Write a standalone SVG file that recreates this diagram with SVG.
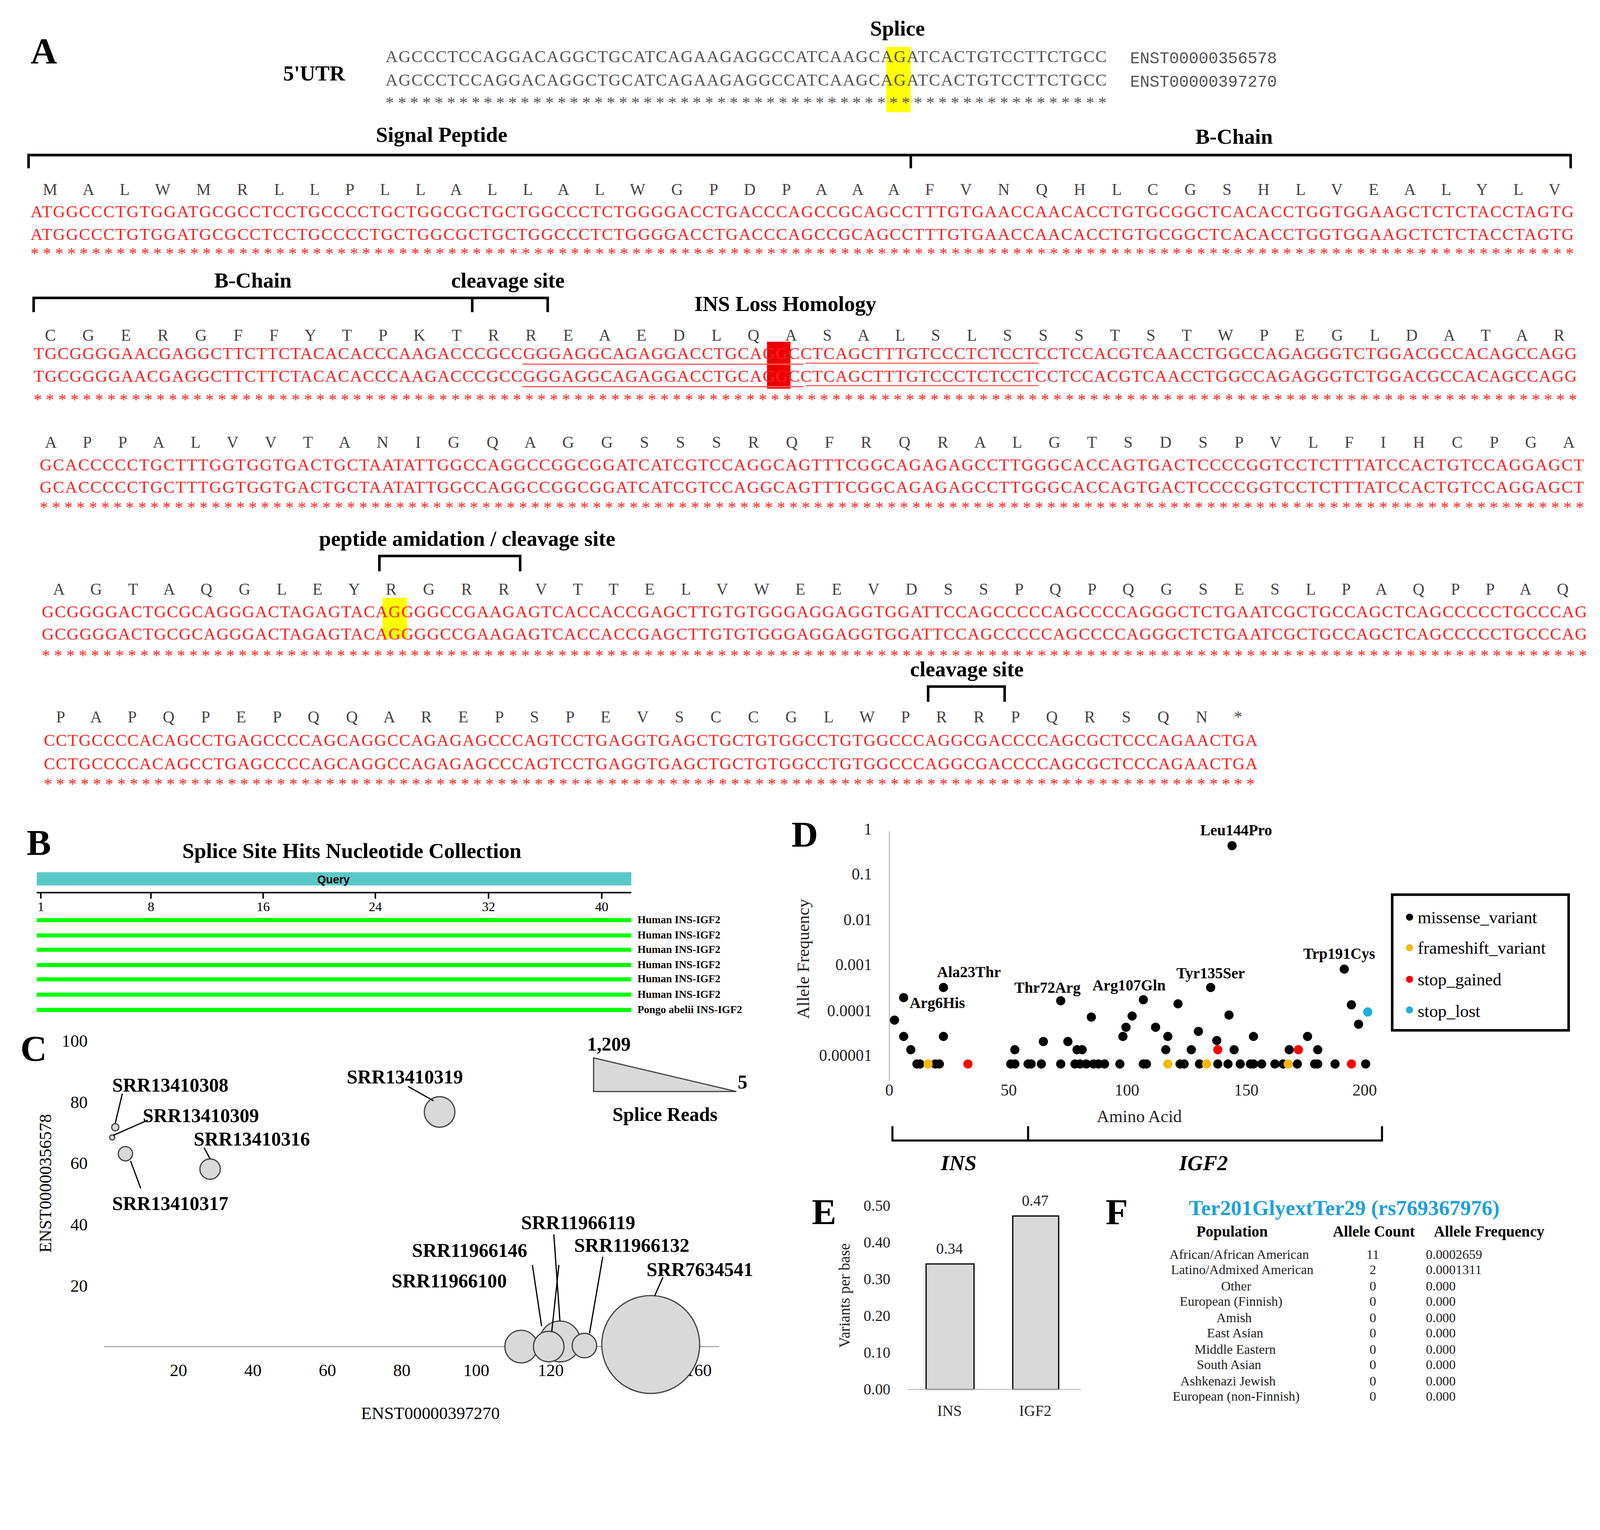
<svg xmlns="http://www.w3.org/2000/svg" width="4361" height="3916" viewBox="0 0 4361 3916">
<style>
text{font-family:"Liberation Serif","Times New Roman",serif;}
.b{font-weight:bold;}
.big{font-size:36px;font-weight:bold;}
.lab{font-size:21px;font-weight:bold;}
.aa{font-size:16px;fill:#444;}
.dna{font-size:16.5px;fill:#ff2020;}
.st{font-size:16px;fill:#ff2020;}
.utr{font-size:16.5px;fill:#555;}
.ens{font-family:"Liberation Mono",monospace;font-size:16px;fill:#555;}
.br{stroke:#000;stroke-width:2.5;fill:none;}
.bl{fill:#000;} .ye{fill:#f5b800;} .rd{fill:#ff0000;} .cy{fill:#1aaee8;}
.bub{fill:#d9d9d9;stroke:#444;stroke-width:1.2;}
.ld{stroke:#000;stroke-width:1.2;}
.ax{font-size:16px;fill:#222;}
.sans{font-family:"Liberation Sans",Arial,sans-serif;font-size:13px;fill:#222;}
.mid{text-anchor:middle;}
.end{text-anchor:end;}
</style>
<rect width="4361" height="3916" fill="#fff"/>
<g transform="scale(2.611)">
<g id="panelA">
<text x="30" y="62" class="big">A</text>
<text x="880" y="35" class="lab mid">Splice</text>
<text x="308" y="79" class="lab mid">5'UTR</text>
<rect x="869" y="46" width="24" height="64" fill="#ffff00"/>
<text x="378" y="61" class="utr" textLength="707">AGCCCTCCAGGACAGGCTGCATCAGAAGAGGCCATCAAGCAGATCACTGTCCTTCTGCC</text>
<text x="378" y="84" class="utr" textLength="707">AGCCCTCCAGGACAGGCTGCATCAGAAGAGGCCATCAAGCAGATCACTGTCCTTCTGCC</text>
<text x="378" y="106" class="utr" textLength="707">***********************************************************</text>
<text x="1108" y="62" class="ens">ENST00000356578</text>
<text x="1108" y="85" class="ens">ENST00000397270</text>

<text x="433" y="139" class="lab mid">Signal Peptide</text>
<text x="1210" y="141" class="lab mid">B-Chain</text>
<path class="br" d="M28,165V152H1540V165M893,152V165"/>
<text x="42" y="191" class="aa" textLength="1488">M A L W M R L L P L L A L L A L W G P D P A A A F V N Q H L C G S H L V E A L Y L V</text>
<text x="30" y="213" class="dna" textLength="1513">ATGGCCCTGTGGATGCGCCTCCTGCCCCTGCTGGCGCTGCTGGCCCTCTGGGGACCTGACCCAGCCGCAGCCTTTGTGAACCAACACCTGTGCGGCTCACACCTGGTGGAAGCTCTCTACCTAGTG</text>
<text x="30" y="235" class="dna" textLength="1513">ATGGCCCTGTGGATGCGCCTCCTGCCCCTGCTGGCGCTGCTGGCCCTCTGGGGACCTGACCCAGCCGCAGCCTTTGTGAACCAACACCTGTGCGGCTCACACCTGGTGGAAGCTCTCTACCTAGTG</text>
<text x="30" y="254" class="st" textLength="1513">******************************************************************************************************************************</text>

<text x="248" y="282" class="lab mid">B-Chain</text>
<text x="498" y="282" class="lab mid">cleavage site</text>
<text x="770" y="305" class="lab mid">INS Loss Homology</text>
<path class="br" d="M33,306V292H463V306M463,292H537V306"/>
<rect x="752" y="335" width="23" height="46" fill="#ee0000"/>
<text x="44" y="334" class="aa" textLength="1490">C G E R G F F Y T P K T R R E A E D L Q A S A L S L S S S T S T W P E G L D A T A R</text>
<text x="33" y="352" class="dna" textLength="1513">TGCGGGGAACGAGGCTTCTTCTACACACCCAAGACCCGCCGGGAGGCAGAGGACCTGCAGGCCTCAGCTTTGTCCCTCTCCTCCTCCACGTCAACCTGGCCAGAGGGTCTGGACGCCACAGCCAGG</text>
<text x="33" y="374" class="dna" textLength="1513">TGCGGGGAACGAGGCTTCTTCTACACACCCAAGACCCGCCGGGAGGCAGAGGACCTGCAGGCCTCAGCTTTGTCCCTCTCCTCCTCCACGTCAACCTGGCCAGAGGGTCTGGACGCCACAGCCAGG</text>
<path d="M512,357H788M790,356H1018M512,379H788M790,378H1018" stroke="#ff6060" stroke-width="1.2"/>
<text x="33" y="397" class="st" textLength="755">***************************************************************</text>
<text x="792" y="397" class="st" textLength="754">***************************************************************</text>

<text x="44" y="439" class="aa" textLength="1500">A P P A L V V T A N I G Q A G G S S S R Q F R Q R A L G T S D S P V L F I H C P G A</text>
<text x="39" y="461" class="dna" textLength="1514">GCACCCCCTGCTTTGGTGGTGACTGCTAATATTGGCCAGGCCGGCGGATCATCGTCCAGGCAGTTTCGGCAGAGAGCCTTGGGCACCAGTGACTCCCCGGTCCTCTTTATCCACTGTCCAGGAGCT</text>
<text x="39" y="483" class="dna" textLength="1514">GCACCCCCTGCTTTGGTGGTGACTGCTAATATTGGCCAGGCCGGCGGATCATCGTCCAGGCAGTTTCGGCAGAGAGCCTTGGGCACCAGTGACTCCCCGGTCCTCTTTATCCACTGTCCAGGAGCT</text>
<text x="39" y="503" class="st" textLength="1514">******************************************************************************************************************************</text>

<text x="458" y="535" class="lab mid">peptide amidation / cleavage site</text>
<path class="br" d="M372,560V545H510V560"/>
<rect x="375" y="586" width="24" height="40" fill="#ffff00"/>
<text x="52" y="583" class="aa" textLength="1486">A G T A Q G L E Y R G R R V T T E L V W E E V D S S P Q P Q G S E S L P A Q P P A Q</text>
<text x="41" y="605" class="dna" textLength="1515">GCGGGGACTGCGCAGGGACTAGAGTACAGGGGCCGAAGAGTCACCACCGAGCTTGTGTGGGAGGAGGTGGATTCCAGCCCCCAGCCCCAGGGCTCTGAATCGCTGCCAGCTCAGCCCCCTGCCCAG</text>
<text x="41" y="627" class="dna" textLength="1515">GCGGGGACTGCGCAGGGACTAGAGTACAGGGGCCGAAGAGTCACCACCGAGCTTGTGTGGGAGGAGGTGGATTCCAGCCCCCAGCCCCAGGGCTCTGAATCGCTGCCAGCTCAGCCCCCTGCCCAG</text>
<text x="41" y="648" class="st" textLength="1515">******************************************************************************************************************************</text>

<text x="948" y="663" class="lab mid">cleavage site</text>
<path class="br" d="M910,688V673H985V688"/>
<text x="55" y="708" class="aa" textLength="1163">P A P Q P E P Q Q A R E P S P E V S C C G L W P R R P Q R S Q N *</text>
<text x="43" y="731" class="dna" textLength="1190">CCTGCCCCACAGCCTGAGCCCCAGCAGGCCAGAGAGCCCAGTCCTGAGGTGAGCTGCTGTGGCCTGTGGCCCAGGCGACCCCAGCGCTCCCAGAACTGA</text>
<text x="43" y="754" class="dna" textLength="1190">CCTGCCCCACAGCCTGAGCCCCAGCAGGCCAGAGAGCCCAGTCCTGAGGTGAGCTGCTGTGGCCTGTGGCCCAGGCGACCCCAGCGCTCCCAGAACTGA</text>
<text x="43" y="774" class="st" textLength="1187">***************************************************************************************************</text>
</g>

<g id="panelB">
<text x="26" y="838" class="big">B</text>
<text x="345" y="841" class="lab mid">Splice Site Hits Nucleotide Collection</text>
<rect x="36" y="855" width="583" height="13" fill="#5bc8c8"/>
<text x="327" y="866" class="mid" style="font-family:'Liberation Sans',sans-serif;font-size:11px;font-weight:bold">Query</text>
<path d="M36,875H619M40,875V881M148,875V881M258,875V881M368,875V881M479,875V881M590,875V881" stroke="#000" stroke-width="1.5"/>
<g style="font-size:13px" class="mid">
<text x="40" y="893">1</text><text x="148" y="893">8</text><text x="258" y="893">16</text><text x="368" y="893">24</text><text x="479" y="893">32</text><text x="590" y="893">40</text>
</g>
<g fill="#00ff00">
<rect x="36" y="900" width="583" height="4"/><rect x="36" y="915" width="583" height="4"/><rect x="36" y="929" width="583" height="4"/><rect x="36" y="944" width="583" height="4"/><rect x="36" y="958" width="583" height="4"/><rect x="36" y="973" width="583" height="4"/><rect x="36" y="988" width="583" height="4"/>
</g>
<g style="font-size:10.5px;font-weight:bold">
<text x="625" y="905">Human INS-IGF2</text><text x="625" y="920">Human INS-IGF2</text><text x="625" y="934">Human INS-IGF2</text><text x="625" y="949">Human INS-IGF2</text><text x="625" y="963">Human INS-IGF2</text><text x="625" y="978">Human INS-IGF2</text><text x="625" y="993">Pongo abelii INS-IGF2</text>
</g>
</g>

<g id="panelC">
<text x="20" y="1040" class="big">C</text>
<text transform="translate(50,1160) rotate(-90)" class="mid" style="font-size:17px">ENST00000356578</text>
<g style="font-size:17px" class="end">
<text x="86" y="1026">100</text><text x="86" y="1086">80</text><text x="86" y="1146">60</text><text x="86" y="1206">40</text><text x="86" y="1266">20</text>
</g>
<path d="M102,1320H705" stroke="#aaa" stroke-width="1.2"/>
<g style="font-size:17px" class="mid">
<text x="175" y="1349">20</text><text x="248" y="1349">40</text><text x="321" y="1349">60</text><text x="394" y="1349">80</text><text x="467" y="1349">100</text><text x="540" y="1349">120</text><text x="612" y="1349">140</text><text x="685" y="1349">160</text>
</g>
<text x="422" y="1391" class="mid" style="font-size:17px">ENST00000397270</text>
<circle class="bub" cx="113" cy="1105" r="3.5"/>
<circle class="bub" cx="110" cy="1115" r="2.5"/>
<circle class="bub" cx="123" cy="1131" r="7"/>
<circle class="bub" cx="206" cy="1146" r="10"/>
<circle class="bub" cx="431" cy="1090" r="15"/>
<circle class="bub" cx="638" cy="1318" r="48"/>
<circle class="bub" cx="511" cy="1320" r="16"/>
<circle class="bub" cx="549" cy="1315" r="20"/>
<circle class="bub" cx="538" cy="1320" r="15"/>
<circle class="bub" cx="573" cy="1319" r="12"/>
<path class="ld" d="M120,1072L113,1101M145,1098L111,1113M128,1138L138,1165M200,1125L206,1136M400,1065L425,1079M650,1252L642,1270M522,1240L531,1300M543,1210L549,1295M548,1240L541,1305M591,1232L578,1307"/>
<g class="lab" style="font-size:19px">
<text x="110" y="1070">SRR13410308</text>
<text x="140" y="1100">SRR13410309</text>
<text x="190" y="1123">SRR13410316</text>
<text x="110" y="1186">SRR13410317</text>
<text x="340" y="1062">SRR13410319</text>
<text x="511" y="1205">SRR11966119</text>
<text x="404" y="1232">SRR11966146</text>
<text x="563" y="1227">SRR11966132</text>
<text x="384" y="1262">SRR11966100</text>
<text x="634" y="1251">SRR7634541</text>
</g>
<polygon points="582,1037 582,1070 722,1070" fill="#d9d9d9" stroke="#444" stroke-width="1.2"/>
<text x="597" y="1030" class="lab mid" style="font-size:19px">1,209</text>
<text x="728" y="1067" class="lab mid" style="font-size:19px">5</text>
<text x="652" y="1099" class="lab mid" style="font-size:19px">Splice Reads</text>
</g>

<g id="panelD">
<text x="776" y="830" class="big">D</text>
<path d="M872,815V1060" stroke="#bbb" stroke-width="1"/>
<g class="ax end">
<text x="855" y="818">1</text><text x="855" y="862">0.1</text><text x="855" y="907">0.01</text><text x="855" y="951">0.001</text><text x="855" y="996">0.0001</text><text x="855" y="1040">0.00001</text>
</g>
<text transform="translate(793,940) rotate(-90)" class="ax mid" style="font-size:17px">Allele Frequency</text>
<g class="ax mid">
<text x="872" y="1074">0</text><text x="989" y="1074">50</text><text x="1105" y="1074">100</text><text x="1222" y="1074">150</text><text x="1338" y="1074">200</text>
</g>
<text x="1117" y="1100" class="ax mid" style="font-size:17px">Amino Acid</text>
<g class="bl">
<circle cx="1208" cy="829" r="4.5"/>
<circle cx="877" cy="1000" r="4.5"/><circle cx="886" cy="978" r="4.5"/><circle cx="886" cy="1016" r="4.5"/><circle cx="893" cy="1029" r="4.5"/><circle cx="925" cy="968" r="4.5"/><circle cx="925" cy="1016" r="4.5"/><circle cx="1040" cy="981" r="4.5"/><circle cx="1070" cy="997" r="4.5"/><circle cx="1110" cy="996" r="4.5"/><circle cx="1104" cy="1007" r="4.5"/><circle cx="1101" cy="1016" r="4.5"/><circle cx="1121" cy="980" r="4.5"/><circle cx="1133" cy="1007" r="4.5"/><circle cx="1145" cy="1016" r="4.5"/><circle cx="1155" cy="984" r="4.5"/><circle cx="1175" cy="1011" r="4.5"/><circle cx="1187" cy="968" r="4.5"/><circle cx="1193" cy="1020" r="4.5"/><circle cx="1205" cy="995" r="4.5"/><circle cx="1229" cy="1016" r="4.5"/><circle cx="1282" cy="1016" r="4.5"/><circle cx="1318" cy="950" r="4.5"/><circle cx="1325" cy="985" r="4.5"/><circle cx="1332" cy="1004" r="4.5"/><circle cx="1023" cy="1021" r="4.5"/><circle cx="1047" cy="1021" r="4.5"/><circle cx="995" cy="1029" r="4.5"/><circle cx="1056" cy="1029" r="4.5"/><circle cx="1061" cy="1029" r="4.5"/><circle cx="1143" cy="1029" r="4.5"/><circle cx="1168" cy="1029" r="4.5"/><circle cx="1210" cy="1029" r="4.5"/><circle cx="1264" cy="1029" r="4.5"/><circle cx="1292" cy="1029" r="4.5"/>
<circle cx="899" cy="1043" r="4.5"/><circle cx="902" cy="1043" r="4.5"/><circle cx="917" cy="1043" r="4.5"/><circle cx="921" cy="1043" r="4.5"/><circle cx="991" cy="1043" r="4.5"/><circle cx="995" cy="1043" r="4.5"/><circle cx="1008" cy="1043" r="4.5"/><circle cx="1011" cy="1043" r="4.5"/><circle cx="1021" cy="1043" r="4.5"/><circle cx="1040" cy="1043" r="4.5"/><circle cx="1054" cy="1043" r="4.5"/><circle cx="1059" cy="1043" r="4.5"/><circle cx="1065" cy="1043" r="4.5"/><circle cx="1072" cy="1043" r="4.5"/><circle cx="1077" cy="1043" r="4.5"/><circle cx="1083" cy="1043" r="4.5"/><circle cx="1098" cy="1043" r="4.5"/><circle cx="1121" cy="1043" r="4.5"/><circle cx="1124" cy="1043" r="4.5"/><circle cx="1157" cy="1043" r="4.5"/><circle cx="1161" cy="1043" r="4.5"/><circle cx="1176" cy="1043" r="4.5"/><circle cx="1194" cy="1043" r="4.5"/><circle cx="1204" cy="1043" r="4.5"/><circle cx="1216" cy="1043" r="4.5"/><circle cx="1226" cy="1043" r="4.5"/><circle cx="1229" cy="1043" r="4.5"/><circle cx="1237" cy="1043" r="4.5"/><circle cx="1250" cy="1043" r="4.5"/><circle cx="1258" cy="1043" r="4.5"/><circle cx="1272" cy="1043" r="4.5"/><circle cx="1289" cy="1043" r="4.5"/><circle cx="1292" cy="1043" r="4.5"/><circle cx="1309" cy="1043" r="4.5"/><circle cx="1339" cy="1043" r="4.5"/>
</g>
<g class="ye"><circle cx="910" cy="1043" r="4.5"/><circle cx="1145" cy="1043" r="4.5"/><circle cx="1183" cy="1043" r="4.5"/><circle cx="1263" cy="1043" r="4.5"/></g>
<g class="rd"><circle cx="949" cy="1043" r="4.5"/><circle cx="1194" cy="1029" r="4.5"/><circle cx="1273" cy="1029" r="4.5"/><circle cx="1325" cy="1043" r="4.5"/></g>
<circle class="cy" cx="1341" cy="992" r="4.5"/>
<g class="b" style="font-size:15px">
<text x="1212" y="819" class="mid">Leu144Pro</text>
<text x="950" y="958" class="mid">Ala23Thr</text>
<text x="919" y="988" class="mid">Arg6His</text>
<text x="1027" y="973" class="mid">Thr72Arg</text>
<text x="1107" y="971" class="mid">Arg107Gln</text>
<text x="1187" y="959" class="mid">Tyr135Ser</text>
<text x="1313" y="940" class="mid">Trp191Cys</text>
</g>
<rect x="1365" y="877" width="173" height="133" fill="#fff" stroke="#000" stroke-width="2.5"/>
<circle class="bl" cx="1382" cy="899" r="3.5"/><circle class="ye" cx="1382" cy="929" r="3.5"/><circle class="rd" cx="1382" cy="960" r="3.5"/><circle class="cy" cx="1382" cy="990" r="3.5"/>
<g style="font-size:17px">
<text x="1390" y="905">missense_variant</text><text x="1390" y="935">frameshift_variant</text><text x="1390" y="966">stop_gained</text><text x="1390" y="997">stop_lost</text>
</g>
<path class="br" d="M875,1104V1118H1355V1104M1008,1118V1104" style="stroke-width:2"/>
<text x="940" y="1147" class="b mid" style="font-size:21px;font-style:italic">INS</text>
<text x="1180" y="1147" class="b mid" style="font-size:21px;font-style:italic">IGF2</text>
</g>

<g id="panelE">
<text x="796" y="1200" class="big">E</text>
<g class="ax end" style="font-size:15px">
<text x="873" y="1187">0.50</text><text x="873" y="1223">0.40</text><text x="873" y="1259">0.30</text><text x="873" y="1295">0.20</text><text x="873" y="1331">0.10</text><text x="873" y="1367">0.00</text>
</g>
<text transform="translate(833,1270) rotate(-90)" class="ax mid" style="font-size:15px">Variants per base</text>
<rect x="908" y="1239" width="47" height="123" fill="#d9d9d9" stroke="#000" stroke-width="1.2"/>
<rect x="993" y="1192" width="45" height="170" fill="#d9d9d9" stroke="#000" stroke-width="1.2"/>
<path d="M890,1362H1060" stroke="#bbb" stroke-width="1"/>
<text x="931" y="1229" class="ax mid" style="font-size:15px">0.34</text>
<text x="1015" y="1182" class="ax mid" style="font-size:15px">0.47</text>
<text x="931" y="1388" class="ax mid" style="font-size:15px">INS</text>
<text x="1015" y="1388" class="ax mid" style="font-size:15px">IGF2</text>
</g>

<g id="panelF">
<text x="1084" y="1200" class="big">F</text>
<text x="1318" y="1191" class="b mid" style="font-size:21px;fill:#1ea0dc">Ter201GlyextTer29 (rs769367976)</text>
<g class="b" style="font-size:15px">
<text x="1208" y="1212" class="mid">Population</text><text x="1347" y="1212" class="mid">Allele Count</text><text x="1460" y="1212" class="mid">Allele Frequency</text>
</g>
<g class="sans">
<text x="1215" y="1234" class="mid">African/African American</text><text x="1346" y="1234" class="mid">11</text><text x="1398" y="1234">0.0002659</text>
<text x="1218" y="1249" class="mid">Latino/Admixed American</text><text x="1346" y="1249" class="mid">2</text><text x="1398" y="1249">0.0001311</text>
<text x="1212" y="1265" class="mid">Other</text><text x="1346" y="1265" class="mid">0</text><text x="1398" y="1265">0.000</text>
<text x="1207" y="1280" class="mid">European (Finnish)</text><text x="1346" y="1280" class="mid">0</text><text x="1398" y="1280">0.000</text>
<text x="1210" y="1296" class="mid">Amish</text><text x="1346" y="1296" class="mid">0</text><text x="1398" y="1296">0.000</text>
<text x="1211" y="1311" class="mid">East Asian</text><text x="1346" y="1311" class="mid">0</text><text x="1398" y="1311">0.000</text>
<text x="1211" y="1327" class="mid">Middle Eastern</text><text x="1346" y="1327" class="mid">0</text><text x="1398" y="1327">0.000</text>
<text x="1205" y="1342" class="mid">South Asian</text><text x="1346" y="1342" class="mid">0</text><text x="1398" y="1342">0.000</text>
<text x="1204" y="1358" class="mid">Ashkenazi Jewish</text><text x="1346" y="1358" class="mid">0</text><text x="1398" y="1358">0.000</text>
<text x="1212" y="1373" class="mid">European (non-Finnish)</text><text x="1346" y="1373" class="mid">0</text><text x="1398" y="1373">0.000</text>
</g>
</g>
</g>
</svg>
